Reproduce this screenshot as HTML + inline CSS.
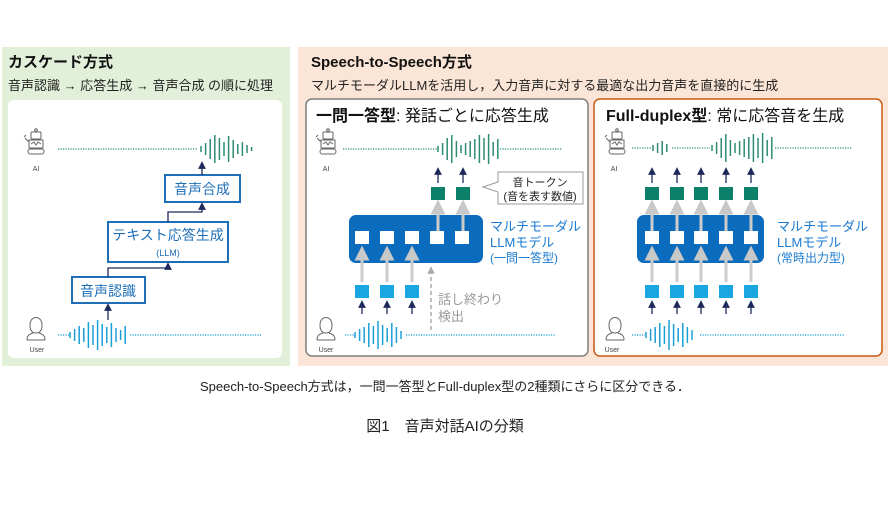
<!DOCTYPE html>
<html><head><meta charset="utf-8">
<style>
body{margin:0;background:#fff;width:890px;height:500px;overflow:hidden}
svg text{font-family:"Liberation Sans","Noto Sans CJK JP",sans-serif}
</style></head><body>
<svg id="s" width="890" height="500" viewBox="0 0 890 500" xmlns="http://www.w3.org/2000/svg">
<defs>
<marker id="an" markerWidth="6" markerHeight="6" refX="3" refY="3" orient="auto"><path d="M0,0L6,3L0,6z" fill="#1f2a5c"/></marker>
<marker id="ag" markerWidth="5" markerHeight="5" refX="2.5" refY="2.5" orient="auto"><path d="M0,0L5,2.5L0,5z" fill="#c8c8c8"/></marker>
<marker id="ad" markerWidth="5" markerHeight="5" refX="2.5" refY="2.5" orient="auto"><path d="M0,0L5,2.5L0,5z" fill="#aaa"/></marker>
</defs>
<!-- left panel -->
<rect x="2" y="47" width="288" height="319" fill="#e2f0d9"/>
<text x="8" y="67" font-size="15" font-weight="bold" fill="#111">カスケード方式</text>
<text x="8" y="90" font-size="13" fill="#222">音声認識 → 応答生成 → 音声合成 の順に処理</text>
<rect x="8" y="100" width="274" height="258" rx="6" fill="#fff"/>
<!-- right panel -->
<rect x="298" y="47" width="590" height="319" fill="#fbe5d6"/>
<text x="311" y="67" font-size="15" font-weight="bold" fill="#111">Speech-to-Speech方式</text>
<text x="311" y="90" font-size="13" fill="#222">マルチモーダルLLMを活用し，入力音声に対する最適な出力音声を直接的に生成</text>
<rect x="306" y="99" width="282" height="257" rx="6" fill="#fff" stroke="#7f7f7f" stroke-width="1.5"/>
<rect x="594" y="99" width="288" height="257" rx="6" fill="#fff" stroke="#c55a11" stroke-width="1.5"/>
<text x="316" y="121" font-size="16" fill="#111"><tspan font-weight="bold">一問一答型</tspan>: 発話ごとに応答生成</text>
<text x="606" y="121" font-size="16" fill="#111"><tspan font-weight="bold">Full-duplex型</tspan>: 常に応答音を生成</text>

<!-- cascade boxes -->
<g fill="#fff" stroke="#1e6fb8" stroke-width="2">
<rect x="165" y="175" width="75" height="27"/>
<rect x="108" y="222" width="120" height="40"/>
<rect x="72" y="277" width="73" height="26"/>
</g>
<g fill="#1e6fb8" text-anchor="middle">
<text x="202" y="194" font-size="14">音声合成</text>
<text x="168" y="240" font-size="14">テキスト応答生成</text>
<text x="168" y="256" font-size="9">(LLM)</text>
<text x="108" y="296" font-size="14">音声認識</text>
</g>
<g stroke="#1f2a5c" stroke-width="1.3" fill="none">
<path d="M108,320V307" marker-end="url(#an)"/>
<path d="M108,277V268H168V266" marker-end="url(#an)"/>
<path d="M168,222V212H202V206" marker-end="url(#an)"/>
<path d="M202,175V165" marker-end="url(#an)"/>
</g>

<!-- one-q-one-a -->
<rect x="349" y="215" width="134" height="48" rx="7" fill="#0b6bbd"/>
<text x="490" y="231" font-size="13" fill="#1a7ad0">マルチモーダル</text>
<text x="490" y="247" font-size="13" fill="#1a7ad0">LLMモデル</text>
<text x="490" y="262" font-size="12" fill="#1a7ad0">(一問一答型)</text>
<path d="M483,187L498,182V172H583V204H498V192z" fill="#fff" stroke="#999"/>
<text x="540" y="186" font-size="11" text-anchor="middle" fill="#222">音トークン</text>
<text x="540" y="200" font-size="11" text-anchor="middle" fill="#222">(音を表す数値)</text>
<path d="M431,330V270" stroke="#aaa" stroke-width="1.5" stroke-dasharray="4,3" marker-end="url(#ad)"/>
<text x="438" y="304" font-size="13" fill="#999">話し終わり</text>
<text x="438" y="321" font-size="13" fill="#999">検出</text>

<!-- full duplex -->
<rect x="637" y="215" width="127" height="48" rx="7" fill="#0b6bbd"/>
<text x="777" y="231" font-size="13" fill="#1a7ad0">マルチモーダル</text>
<text x="777" y="247" font-size="13" fill="#1a7ad0">LLMモデル</text>
<text x="777" y="262" font-size="12" fill="#1a7ad0">(常時出力型)</text>

<!-- labels -->
<g font-size="7" fill="#444" text-anchor="middle">
<text x="36" y="171">AI</text><text x="37" y="352">User</text>
<text x="326" y="171">AI</text><text x="326" y="352">User</text>
<text x="614" y="171">AI</text><text x="612" y="352">User</text>
</g>

<text x="445" y="391" font-size="13" text-anchor="middle" fill="#222">Speech-to-Speech方式は，一問一答型とFull-duplex型の2種類にさらに区分できる．</text>
<text x="445" y="431" font-size="15" text-anchor="middle" fill="#222">図1　音声対話AIの分類</text>
<g id="dyn"></g>
</svg>
<script>
var g=document.getElementById('dyn'),NS='http://www.w3.org/2000/svg',h='';
function dots(x1,x2,y,c){h+='<line x1="'+x1+'" x2="'+x2+'" y1="'+y+'" y2="'+y+'" stroke="'+c+'" stroke-width="1.2" stroke-dasharray="1.2,1.3"/>';}
function wave(x,y,hs,c){for(var i=0;i<hs.length;i++){var xx=x+i*4.6;h+='<line x1="'+xx+'" x2="'+xx+'" y1="'+(y-hs[i]/2)+'" y2="'+(y+hs[i]/2)+'" stroke="'+c+'" stroke-width="1.5"/>';}}
function sq(x,y,c){h+='<rect x="'+x+'" y="'+y+'" width="14" height="13" fill="'+c+'"/>';}
function ar(x,y1,y2,m,c,w){h+='<line x1="'+x+'" x2="'+x+'" y1="'+y1+'" y2="'+y2+'" stroke="'+c+'" stroke-width="'+w+'" marker-end="url(#'+m+')"/>';}
function robot(x,y){h+='<g fill="none" stroke="#666" stroke-width="1"><circle cx="'+(x+7)+'" cy="'+(y)+'" r="1.3"/><rect x="'+(x+2)+'" y="'+(y+2)+'" width="10" height="7" rx="1"/><rect x="'+(x)+'" y="'+(y+10)+'" width="14" height="8"/><path d="M'+(x+2)+','+(y+14)+'l3,-2 2,3 2,-3 3,2"/><path d="M'+x+','+(y+12)+'l-4,-4 M'+(x-5)+','+(y+7)+'l2,-2"/><rect x="'+(x-1)+'" y="'+(y+19)+'" width="16" height="5" rx="2.5"/></g>';}
function user(x,y){h+='<g fill="none" stroke="#666" stroke-width="1"><path d="M'+(x+3)+','+(y+8)+'c0,-10 12,-10 12,0 c0,5 -2,8 -6,8 c-4,0 -6,-3 -6,-8z"/><path d="M'+(x)+','+(y+23)+'c0,-5 3,-6 6,-7 M'+(x+18)+','+(y+23)+'c0,-5 -3,-6 -6,-7 M'+x+','+(y+23)+'h18"/></g>';}
var T='#2e8b74',B='#1aa0d8';
// left
robot(29,130);user(27,317);
dots(58,198,149,T);wave(201,149,[6,12,20,28,22,14,26,18,10,14,8,4],T);
dots(58,70,335,B);wave(70,335,[6,12,18,14,26,20,30,22,16,24,14,10,18],B);dots(130,262,335,B);
// box1
robot(321,130);user(317,317);
dots(343,437,149,T);wave(438,149,[6,12,22,28,16,8,12,16,20,28,22,30,14,20],T);dots(500,562,149,T);
dots(345,355,335,B);wave(355,335,[6,12,16,24,18,28,20,14,24,16,8],B);dots(406,555,335,B);
[438,463].forEach(function(x){ar(x,183,171,'an','#1f2a5c',1.3);sq(x-7,187,'#0c8069');ar(x,231,207,'ag','#ccc',3);});
[362,387,412,437,462].forEach(function(x){h+='<rect x="'+(x-7)+'" y="231" width="14" height="13" fill="#fff"/>';});
[362,387,412].forEach(function(x){sq(x-7,285,'#1aa6e0');ar(x,282,253,'ag','#ccc',3);ar(x,314,304,'an','#1f2a5c',1.3);});
// box2
robot(610,130);user(606,317);
dots(632,652,148,T);wave(653,148,[6,10,14,8],T);dots(672,710,148,T);wave(712,148,[6,12,20,28,16,10,14,18,22,28,20,30,16,22],T);dots(775,852,148,T);
dots(632,645,335,B);wave(646,335,[6,12,16,24,18,30,22,14,24,16,10],B);dots(700,845,335,B);
[652,677,701,726,751].forEach(function(x){ar(x,183,171,'an','#1f2a5c',1.3);sq(x-7,187,'#0c8069');ar(x,231,207,'ag','#ccc',3);h+='<rect x="'+(x-7)+'" y="231" width="14" height="13" fill="#fff"/>';sq(x-7,285,'#1aa6e0');ar(x,282,253,'ag','#ccc',3);ar(x,314,304,'an','#1f2a5c',1.3);});
g.innerHTML=h;
</script>
</body></html>
